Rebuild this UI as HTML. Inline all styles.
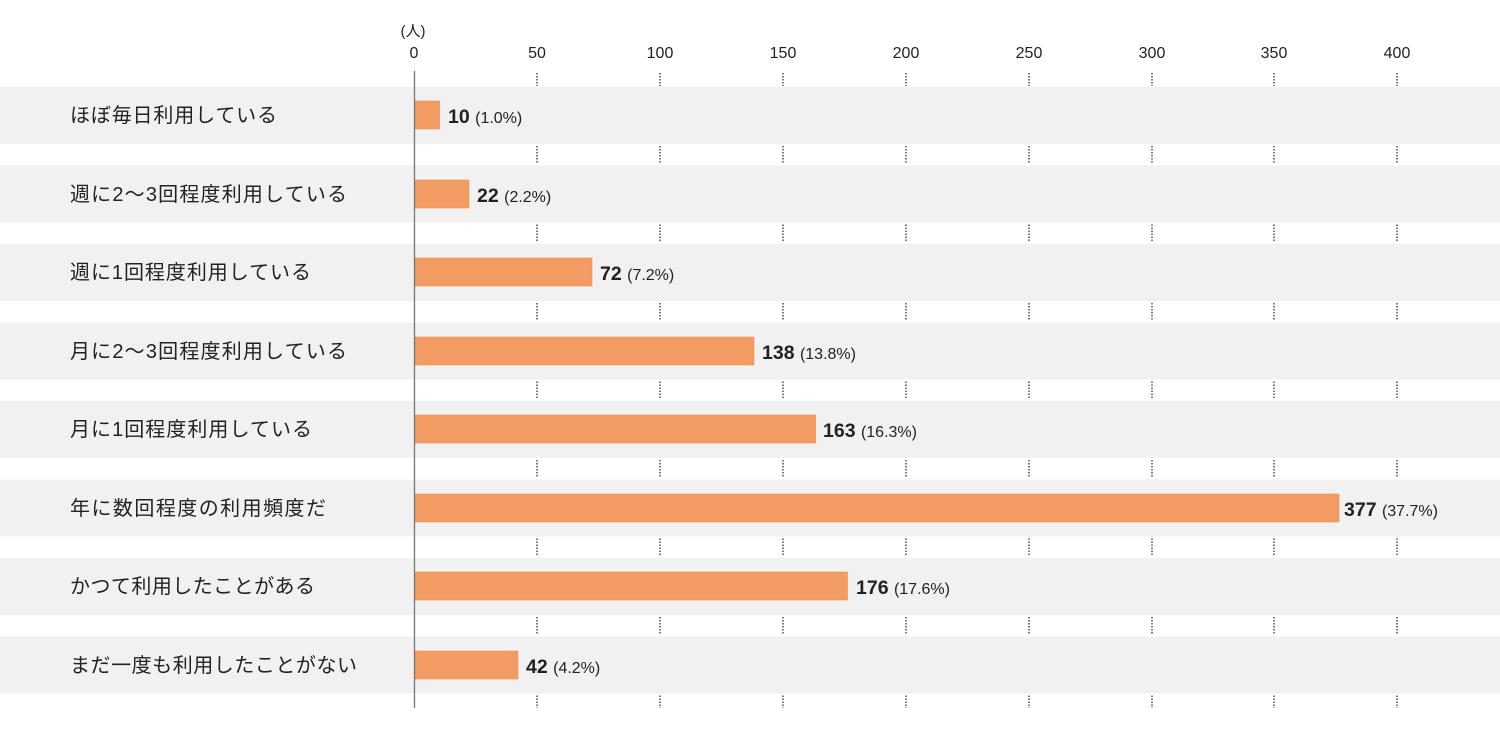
<!DOCTYPE html><html><head><meta charset="utf-8"><style>body{margin:0;background:#fff}svg{display:block}text{font-family:"Liberation Sans","Noto Sans CJK JP",sans-serif;fill:#222}</style></head><body>
<svg width="1500" height="731" xmlns="http://www.w3.org/2000/svg">
<g fill="#f1f1f1">
<rect x="0" y="87" width="1500" height="57"/><rect x="0" y="165.5" width="1500" height="57"/><rect x="0" y="244" width="1500" height="57"/><rect x="0" y="322.5" width="1500" height="57"/><rect x="0" y="401" width="1500" height="57"/><rect x="0" y="479.5" width="1500" height="57"/><rect x="0" y="558" width="1500" height="57"/><rect x="0" y="636.5" width="1500" height="57"/>
</g>
<g stroke="#333" stroke-width="1.3" stroke-dasharray="1.5,1.5">
<path d="M537 73V86M660 73V86M783 73V86M906 73V86M1029 73V86M1152 73V86M1274 73V86M1397 73V86"/>
<path d="M537 146V163M660 146V163M783 146V163M906 146V163M1029 146V163M1152 146V163M1274 146V163M1397 146V163"/>
<path d="M537 224.5V242M660 224.5V242M783 224.5V242M906 224.5V242M1029 224.5V242M1152 224.5V242M1274 224.5V242M1397 224.5V242"/>
<path d="M537 303V320.5M660 303V320.5M783 303V320.5M906 303V320.5M1029 303V320.5M1152 303V320.5M1274 303V320.5M1397 303V320.5"/>
<path d="M537 381.5V399M660 381.5V399M783 381.5V399M906 381.5V399M1029 381.5V399M1152 381.5V399M1274 381.5V399M1397 381.5V399"/>
<path d="M537 460V477.5M660 460V477.5M783 460V477.5M906 460V477.5M1029 460V477.5M1152 460V477.5M1274 460V477.5M1397 460V477.5"/>
<path d="M537 538.5V556M660 538.5V556M783 538.5V556M906 538.5V556M1029 538.5V556M1152 538.5V556M1274 538.5V556M1397 538.5V556"/>
<path d="M537 617V634.5M660 617V634.5M783 617V634.5M906 617V634.5M1029 617V634.5M1152 617V634.5M1274 617V634.5M1397 617V634.5"/>
<path d="M537 695.5V708M660 695.5V708M783 695.5V708M906 695.5V708M1029 695.5V708M1152 695.5V708M1274 695.5V708M1397 695.5V708"/>
</g>
<g font-size="16" text-anchor="middle">
<text x="414" y="58">0</text><text x="537" y="58">50</text><text x="660" y="58">100</text><text x="783" y="58">150</text><text x="906" y="58">200</text><text x="1029" y="58">250</text><text x="1152" y="58">300</text><text x="1274" y="58">350</text><text x="1397" y="58">400</text>
<text x="413" y="36" font-size="15">(人)</text>
</g>
<g fill="#f29c63" stroke="#ee9050" stroke-width="0.6">
<rect x="415" y="101" width="24.6" height="28"/>
<rect x="415" y="180" width="54" height="28"/>
<rect x="415" y="258" width="177" height="28"/>
<rect x="415" y="337" width="339" height="28"/>
<rect x="415" y="415" width="400.6" height="28"/>
<rect x="415" y="494" width="924" height="28"/>
<rect x="415" y="572" width="432.5" height="28"/>
<rect x="415" y="651" width="103" height="28"/>
</g>
<line x1="414.5" y1="71" x2="414.5" y2="708" stroke="#777" stroke-width="1.3"/>
<g font-size="20" lengthAdjust="spacingAndGlyphs">
<text x="70" y="122" textLength="207">ほぼ毎日利用している</text>
<text x="70" y="201" textLength="277">週に2～3回程度利用している</text>
<text x="70" y="279" textLength="241">週に1回程度利用している</text>
<text x="70" y="358" textLength="277">月に2～3回程度利用している</text>
<text x="70" y="436" textLength="242">月に1回程度利用している</text>
<text x="70" y="515" textLength="256">年に数回程度の利用頻度だ</text>
<text x="70" y="593" textLength="245">かつて利用したことがある</text>
<text x="70" y="672" textLength="287">まだ一度も利用したことがない</text>
</g>
<g font-size="19.5" font-weight="600">
<text x="448" y="123">10 <tspan font-size="16" font-weight="400">(1.0%)</tspan></text>
<text x="477" y="202">22 <tspan font-size="16" font-weight="400">(2.2%)</tspan></text>
<text x="600" y="280">72 <tspan font-size="16" font-weight="400">(7.2%)</tspan></text>
<text x="762" y="359">138 <tspan font-size="16" font-weight="400">(13.8%)</tspan></text>
<text x="823" y="437">163 <tspan font-size="16" font-weight="400">(16.3%)</tspan></text>
<text x="1344" y="516">377 <tspan font-size="16" font-weight="400">(37.7%)</tspan></text>
<text x="856" y="594">176 <tspan font-size="16" font-weight="400">(17.6%)</tspan></text>
<text x="526" y="673">42 <tspan font-size="16" font-weight="400">(4.2%)</tspan></text>
</g>
</svg></body></html>
